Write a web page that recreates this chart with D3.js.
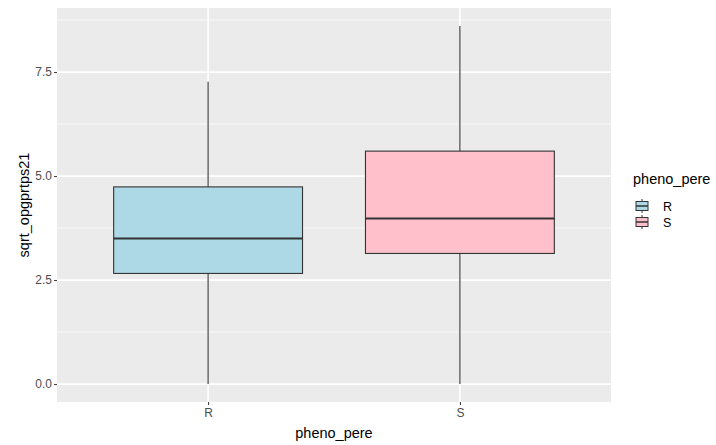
<!DOCTYPE html>
<html>
<head>
<meta charset="utf-8">
<script src="https://cdn.jsdelivr.net/npm/d3@7"></script>
<style>
  body { margin: 0; background: #fff; }
  text { font-family: "Liberation Sans", Arial, sans-serif; }
</style>
</head>
<body>
<svg id="chart" width="716" height="445"></svg>
<script>
// data
const groups = ["R", "S"]
const lowWhisker = [0.0, 0.0]
const q1 = [2.66, 3.14]
const median = [3.50, 3.98]
const q3 = [4.74, 5.60]
const highWhisker = [7.27, 8.61]
const fills = ["#ADD8E6", "#FFC0CB"]
const yTicks = [0, 2.5, 5, 7.5]
const yMinor = [1.25, 3.75, 6.25, 8.75]

const svg = d3.select("#chart")

const panel = {left: 57, right: 611, top: 8, bottom: 402}

// ggplot-style 5% expansion
const lo = d3.min(lowWhisker), hi = d3.max(highWhisker)
const pad = (hi - lo) * 0.05
const y = d3.scaleLinear().domain([lo - pad, hi + pad]).range([panel.bottom, panel.top])

// discrete x with 0.6 expansion on each side
const x = d3.scalePoint().domain(groups).range([panel.left, panel.right]).padding(0.6)
const step = x.step()
const boxW = step * 0.75

const g = svg.append("g")

g.append("rect")
    .attr("x", panel.left)
    .attr("y", panel.top)
    .attr("width", panel.right - panel.left)
    .attr("height", panel.bottom - panel.top)
    .attr("fill", "#EBEBEB")

yMinor.forEach(v => {
    g.append("line")
        .attr("x1", panel.left).attr("x2", panel.right)
        .attr("y1", y(v)).attr("y2", y(v))
        .attr("stroke", "#fff").attr("stroke-width", 0.8)
})
yTicks.forEach(v => {
    g.append("line")
        .attr("x1", panel.left).attr("x2", panel.right)
        .attr("y1", y(v)).attr("y2", y(v))
        .attr("stroke", "#fff").attr("stroke-width", 1.6)
})
groups.forEach(k => {
    g.append("line")
        .attr("x1", x(k)).attr("x2", x(k))
        .attr("y1", panel.top).attr("y2", panel.bottom)
        .attr("stroke", "#fff").attr("stroke-width", 1.6)
})

// boxes
groups.forEach((k, i) => {
    const cx = x(k)
    g.append("line")
        .attr("x1", cx).attr("x2", cx)
        .attr("y1", y(highWhisker[i])).attr("y2", y(q3[i]))
        .attr("stroke", "#333").attr("stroke-width", 1.1)
    g.append("line")
        .attr("x1", cx).attr("x2", cx)
        .attr("y1", y(q1[i])).attr("y2", y(lowWhisker[i]))
        .attr("stroke", "#333").attr("stroke-width", 1.1)
    g.append("rect")
        .attr("x", cx - boxW / 2)
        .attr("y", y(q3[i]))
        .attr("width", boxW)
        .attr("height", y(q1[i]) - y(q3[i]))
        .attr("fill", fills[i])
        .attr("stroke", "#333").attr("stroke-width", 1.1)
    g.append("line")
        .attr("x1", cx - boxW / 2).attr("x2", cx + boxW / 2)
        .attr("y1", y(median[i])).attr("y2", y(median[i]))
        .attr("stroke", "#333").attr("stroke-width", 2.2)
})

// axes
const yAxis = d3.axisLeft(y).tickValues(yTicks).tickSize(3).tickPadding(2)
    .tickFormat(d3.format(".1f"))
const ya = svg.append("g").attr("transform", `translate(${panel.left},0)`).call(yAxis)
ya.select(".domain").remove()
ya.selectAll(".tick line").attr("stroke", "#333")
ya.selectAll(".tick text").attr("fill", "#4D4D4D").style("font-size", "12px")

const xAxis = d3.axisBottom(x).tickSize(3).tickPadding(3)
const xa = svg.append("g").attr("transform", `translate(0,${panel.bottom})`).call(xAxis)
xa.select(".domain").remove()
xa.selectAll(".tick line").attr("stroke", "#333")
xa.selectAll(".tick text").attr("fill", "#4D4D4D").style("font-size", "12px")

svg.append("text")
    .attr("x", (panel.left + panel.right) / 2)
    .attr("y", 438)
    .attr("text-anchor", "middle")
    .style("font-size", "14.5px")
    .attr("fill", "#000")
    .text("pheno_pere")

svg.append("text")
    .attr("transform", `translate(29,${(panel.top + panel.bottom) / 2}) rotate(-90)`)
    .attr("text-anchor", "middle")
    .style("font-size", "14.5px")
    .attr("fill", "#000")
    .text("sqrt_opgprtps21")

// legend
const leg = svg.append("g").attr("transform", "translate(633,0)")
leg.append("text")
    .attr("x", 0).attr("y", 184)
    .style("font-size", "14.5px")
    .text("pheno_pere")

groups.forEach((k, i) => {
    const cy = 206 + i * 16
    const kx = 3, kw = 12
    leg.append("line")
        .attr("x1", kx + kw / 2).attr("x2", kx + kw / 2)
        .attr("y1", cy - 7).attr("y2", cy + 7)
        .attr("stroke", "#333").attr("stroke-width", 1)
    leg.append("rect")
        .attr("x", kx).attr("y", cy - 4.5)
        .attr("width", kw).attr("height", 9)
        .attr("fill", fills[i])
        .attr("stroke", "#333").attr("stroke-width", 1)
    leg.append("line")
        .attr("x1", kx).attr("x2", kx + kw)
        .attr("y1", cy).attr("y2", cy)
        .attr("stroke", "#333").attr("stroke-width", 1.5)
    leg.append("text")
        .attr("x", 30).attr("y", cy + 4.5)
        .style("font-size", "12.5px")
        .attr("fill", "#000")
        .text(k)
})
</script>
</body>
</html>
